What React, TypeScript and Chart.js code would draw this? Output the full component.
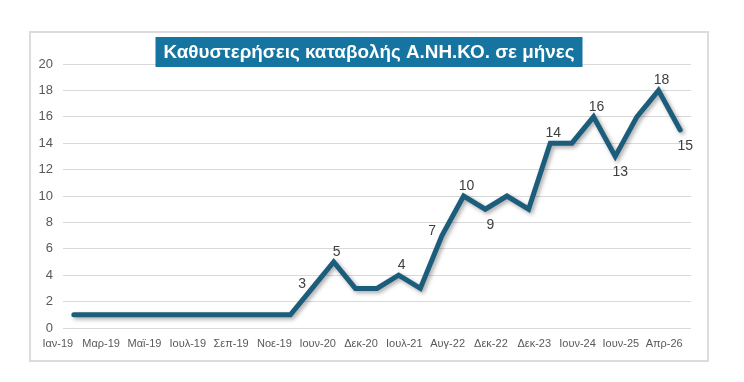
import { useEffect, useRef } from 'react';
import { Chart, registerables } from 'chart.js';

Chart.register(...registerables);

const TITLE = 'Καθυστερήσεις καταβολής Α.ΝΗ.ΚΟ. σε μήνες';

const categories = [
  'Ιαν-19', 'Φεβ-19', 'Μαρ-19', 'Απρ-19', 'Μαϊ-19', 'Ιουν-19', 'Ιουλ-19', 'Αυγ-19',
  'Σεπ-19', 'Οκτ-19', 'Νοε-19', 'Μαρ-20', 'Ιουν-20', 'Σεπ-20', 'Δεκ-20', 'Μαρ-21',
  'Ιουλ-21', 'Φεβ-22', 'Αυγ-22', 'Οκτ-22', 'Δεκ-22', 'Ιουν-23', 'Δεκ-23', 'Μαρ-24',
  'Ιουν-24', 'Δεκ-24', 'Ιουν-25', 'Οκτ-25', 'Απρ-26',
];

const delayMonths = [
  1, 1, 1, 1, 1, 1, 1, 1, 1, 1, 1, 3, 5, 3, 3, 4, 3, 7, 10, 9, 10, 9, 14, 14, 16, 13, 16, 18, 15,
];

// which points carry a value label, and on which side
const labelSide: Record<number, 'above' | 'below' | 'left'> = {
  11: 'left', 12: 'above', 15: 'above', 17: 'left', 18: 'above', 19: 'below',
  22: 'above', 24: 'above', 25: 'below', 27: 'above', 28: 'below',
};

const LINE_COLOR = '#1d5d7c';
const TITLE_BG = '#1675a0';
const TEXT_GREY = '#595959';

const framePlugin = {
  id: 'frame',
  beforeDraw(chart: any) {
    const { ctx, width, height } = chart;
    ctx.save();
    ctx.fillStyle = '#ffffff';
    ctx.fillRect(0, 0, width, height);
    ctx.strokeStyle = '#dcdcdc';
    ctx.lineWidth = 2;
    ctx.strokeRect(30, 32, 678, 329);
    ctx.restore();
  },
};

const titlePlugin = {
  id: 'boxTitle',
  afterDraw(chart: any) {
    const { ctx } = chart;
    ctx.save();
    ctx.font = 'bold 19px "Liberation Sans", Arial, sans-serif';
    const maxW = 411;
    const w = Math.min(ctx.measureText(TITLE).width, maxW);
    const cx = 369;
    const cy = 52;
    const padX = 8;
    ctx.fillStyle = TITLE_BG;
    ctx.fillRect(cx - w / 2 - padX, cy - 15, w + padX * 2, 30);
    ctx.fillStyle = '#ffffff';
    ctx.textAlign = 'center';
    ctx.textBaseline = 'middle';
    ctx.fillText(TITLE, cx, cy + 1, maxW);
    ctx.restore();
  },
};

const shadowPlugin = {
  id: 'lineShadow',
  beforeDatasetsDraw(chart: any) {
    const { ctx } = chart;
    ctx.save();
    ctx.shadowColor = 'rgba(0,0,0,0.35)';
    ctx.shadowBlur = 4;
    ctx.shadowOffsetX = 2;
    ctx.shadowOffsetY = 2;
  },
  afterDatasetsDraw(chart: any) {
    chart.ctx.restore();
  },
};

const valueLabelPlugin = {
  id: 'valueLabels',
  afterDatasetsDraw(chart: any) {
    const { ctx } = chart;
    const meta = chart.getDatasetMeta(0);
    ctx.save();
    ctx.font = '14px "Liberation Sans", Arial, sans-serif';
    ctx.fillStyle = '#404040';
    Object.keys(labelSide).forEach((k) => {
      const i = Number(k);
      const pt = meta.data[i];
      if (!pt) return;
      const text = String(delayMonths[i]);
      const side = labelSide[i];
      if (side === 'above') {
        ctx.textAlign = 'center';
        ctx.textBaseline = 'bottom';
        ctx.fillText(text, pt.x + 3, pt.y - 3);
      } else if (side === 'below') {
        ctx.textAlign = 'center';
        ctx.textBaseline = 'top';
        ctx.fillText(text, pt.x + 5, pt.y + 9);
      } else {
        ctx.textAlign = 'right';
        ctx.textBaseline = 'middle';
        ctx.fillText(text, pt.x - 6, pt.y - 4);
      }
    });
    ctx.restore();
  },
};

export default function App() {
  const canvasRef = useRef<HTMLCanvasElement | null>(null);

  useEffect(() => {
    if (!canvasRef.current) return;
    const chart = new Chart(canvasRef.current, {
      type: 'line',
      data: {
        labels: categories,
        datasets: [
          {
            data: delayMonths,
            borderColor: LINE_COLOR,
            borderWidth: 5,
            pointRadius: 0,
            pointHoverRadius: 0,
            tension: 0,
            borderJoinStyle: 'miter',
            borderCapStyle: 'round',
            fill: false,
          },
        ],
      },
      options: {
        animation: false,
        responsive: true,
        maintainAspectRatio: false,
        layout: { padding: { left: 30, right: 53, top: 64, bottom: 20 } },
        plugins: {
          legend: { display: false },
          title: { display: false },
          tooltip: { enabled: false },
        },
        scales: {
          x: {
            type: 'category',
            offset: true,
            grid: { display: false, drawTicks: false },
            border: { display: false },
            ticks: {
              autoSkip: false,
              maxRotation: 0,
              minRotation: 0,
              padding: 9,
              labelOffset: -16,
              color: TEXT_GREY,
              font: { family: '"Liberation Sans", Arial, sans-serif', size: 11 },
              callback: (_v: any, i: number) => (i % 2 === 0 ? categories[i] : ''),
            },
            afterFit: (scale: any) => {
              scale.height = 34;
            },
          },
          y: {
            min: 0,
            max: 20,
            grid: { color: '#d9d9d9', lineWidth: 1, drawTicks: false },
            border: { display: false },
            ticks: {
              stepSize: 2,
              padding: 10,
              color: TEXT_GREY,
              font: { family: '"Liberation Sans", Arial, sans-serif', size: 13 },
            },
            afterFit: (scale: any) => {
              scale.width = 33;
            },
          },
        },
      },
      plugins: [framePlugin, shadowPlugin, valueLabelPlugin, titlePlugin],
    });
    return () => chart.destroy();
  }, []);

  return (
    <div style={{ position: 'fixed', left: 0, top: 0, width: 744, height: 382 }}>
      <canvas ref={canvasRef} />
    </div>
  );
}
